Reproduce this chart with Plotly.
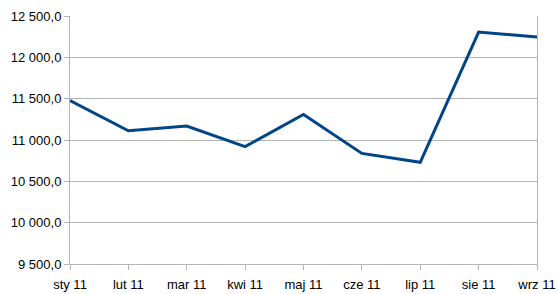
import plotly.graph_objects as go

months = ["sty 11", "lut 11", "mar 11", "kwi 11", "maj 11", "cze 11", "lip 11", "sie 11", "wrz 11"]
values = [11478, 11111, 11168, 10920, 11308, 10838, 10730, 12306, 12246]
y_ticks = [9500, 10000, 10500, 11000, 11500, 12000, 12500]

fig = go.Figure()
fig.add_trace(go.Scatter(x=months, y=values, mode="lines",
                         line=dict(color="#004586", width=3)))

fig.update_layout(
    width=559, height=294,
    margin=dict(l=70, r=22, t=16, b=30, autoexpand=False),
    paper_bgcolor="white", plot_bgcolor="white",
    showlegend=False,
    separators=", ",
    font=dict(family="Liberation Sans, Arial, sans-serif", size=13, color="#000000"),
)
fig.update_xaxes(
    type="category", range=[0, 8], automargin=False,
    showgrid=False, showline=True, linecolor="#b3b3b3", linewidth=1,
    ticks="outside", ticklen=5, tickcolor="#b3b3b3",
    ticklabelstandoff=3,
    zeroline=False,
)
fig.update_yaxes(
    range=[9500, 12500], tickvals=y_ticks, tickformat=",.1f", automargin=False,
    showgrid=True, gridcolor="#b3b3b3", gridwidth=1,
    showline=True, linecolor="#b3b3b3", linewidth=1, mirror=True,
    ticks="outside", ticklen=5, tickcolor="#b3b3b3",
    zeroline=False,
)

fig.write_html("out.html")
